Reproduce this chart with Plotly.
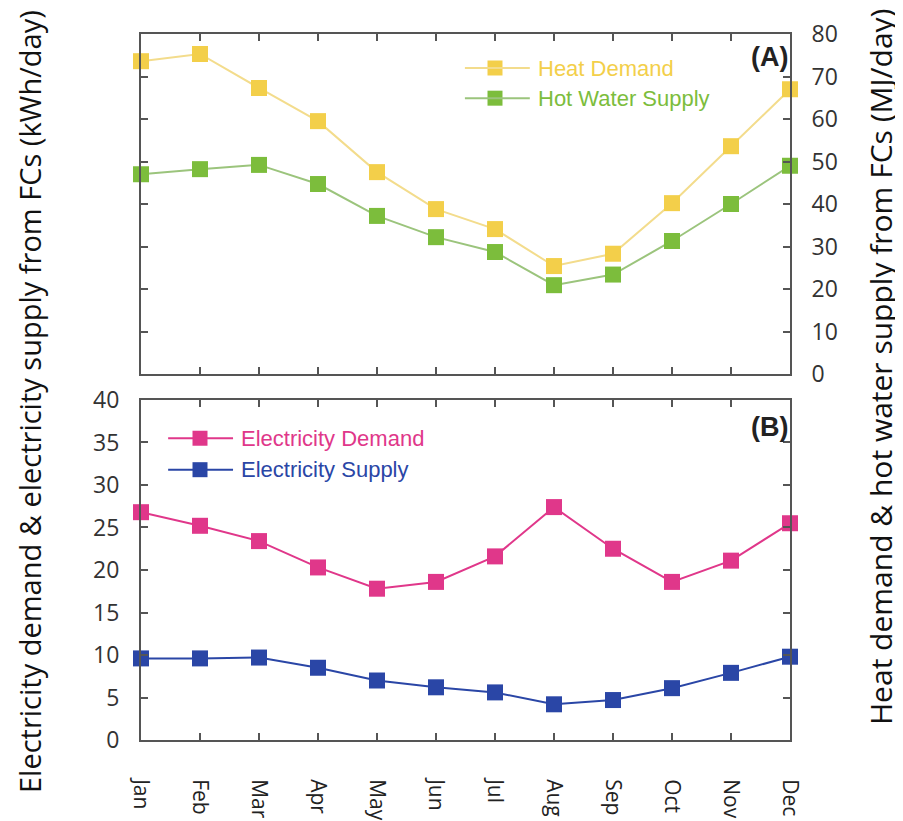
import plotly.graph_objects as go

months = ["Jan", "Feb", "Mar", "Apr", "May", "Jun", "Jul", "Aug", "Sep", "Oct", "Nov", "Dec"]
heat_demand = [73.6, 75.3, 67.3, 59.5, 47.5, 38.8, 34.1, 25.4, 28.3, 40.2, 53.6, 67.0]
hot_water_supply = [47.0, 48.2, 49.2, 44.7, 37.2, 32.2, 28.7, 20.9, 23.4, 31.3, 40.0, 49.0]
elec_demand = [26.8, 25.2, 23.4, 20.3, 17.8, 18.6, 21.6, 27.4, 22.5, 18.6, 21.1, 25.5]
elec_supply = [9.6, 9.6, 9.7, 8.5, 7.0, 6.2, 5.6, 4.2, 4.7, 6.1, 7.9, 9.8]
right_ticks = [0, 10, 20, 30, 40, 50, 60, 70, 80]
left_ticks = [0, 5, 10, 15, 20, 25, 30, 35, 40]

x = list(range(len(months)))

C_HEAT_M, C_HEAT_L = "#f3cf4a", "#f3dc8c"
C_HW_M, C_HW_L = "#7cbd3c", "#9bc47c"
C_ED = "#e0378a"
C_ES = "#2a46a6"

fig = go.Figure()

def add(y, name, mc, lc, xa, ya):
    fig.add_trace(go.Scatter(
        x=x, y=y, name=name, mode="lines+markers", xaxis=xa, yaxis=ya,
        line=dict(color=lc, width=2),
        marker=dict(symbol="square", size=16, color=mc),
        cliponaxis=False, showlegend=False))

add(heat_demand, "Heat Demand", C_HEAT_M, C_HEAT_L, "x", "y")
add(hot_water_supply, "Hot Water Supply", C_HW_M, C_HW_L, "x", "y")
add(elec_demand, "Electricity Demand", C_ED, C_ED, "x2", "y2")
add(elec_supply, "Electricity Supply", C_ES, C_ES, "x2", "y2")

axcol = "#555555"
tickfont = dict(family="Open Sans, DejaVu Sans, sans-serif", size=23, color="#333333")

common_x = dict(range=[0, 11], tickvals=x, showline=True, linecolor=axcol, linewidth=2,
                mirror="ticks", ticks="inside", ticklen=7, tickcolor=axcol, tickwidth=1.5,
                showgrid=False, zeroline=False, automargin=False)
fig.update_layout(
    xaxis=dict(common_x, domain=[0, 1], anchor="y", showticklabels=False),
    xaxis2=dict(common_x, domain=[0, 1], anchor="y2", ticktext=months, tickangle=90,
                tickfont=dict(family="Open Sans, DejaVu Sans, sans-serif", size=21, color="#222222"),
                ticklabelstandoff=33),
    yaxis=dict(domain=[0.5184, 1.0], anchor="x", side="right", range=[0, 80], tickvals=right_ticks,
               showline=True, linecolor=axcol, linewidth=2, mirror="ticks", ticks="inside",
               ticklen=7, tickcolor=axcol, tickwidth=1.5, showgrid=False, zeroline=False,
               tickfont=tickfont, ticklabelstandoff=15, automargin=False),
    yaxis2=dict(domain=[0.0, 0.4816], anchor="x2", side="left", range=[0, 40], tickvals=left_ticks,
                showline=True, linecolor=axcol, linewidth=2, mirror="ticks", ticks="inside",
                ticklen=7, tickcolor=axcol, tickwidth=1.5, showgrid=False, zeroline=False,
                tickfont=tickfont, ticklabelstandoff=15, automargin=False),
    width=895, height=813,
    margin=dict(l=133, r=113, t=26, b=81, autoexpand=False),
    paper_bgcolor="white", plot_bgcolor="white",
    showlegend=False,
)

def legend_entry(xa, ya, x0, x1, xm, y, name, mc, lc):
    fig.add_shape(type="line", xref=xa, yref=ya, x0=x0, x1=x1, y0=y, y1=y,
                  line=dict(color=lc, width=2))
    fig.add_trace(go.Scatter(x=[xm], y=[y], xaxis=xa, yaxis=ya, mode="markers",
                             marker=dict(symbol="square", size=15, color=mc),
                             showlegend=False, hoverinfo="skip", cliponaxis=False))
    fig.add_annotation(xref=xa, yref=ya, x=x1 + 0.1, y=y, text=name, showarrow=False,
                       xanchor="left", yanchor="middle",
                       font=dict(family="Liberation Sans, Arial, sans-serif", size=22, color=mc))

legend_entry("x", "y", 5.49, 6.59, 6.0, 72.0, "Heat Demand", C_HEAT_M, C_HEAT_L)
legend_entry("x", "y", 5.49, 6.59, 6.0, 64.9, "Hot Water Supply", C_HW_M, C_HW_L)
legend_entry("x2", "y2", 0.46, 1.56, 1.0, 35.5, "Electricity Demand", C_ED, C_ED)
legend_entry("x2", "y2", 0.46, 1.56, 1.0, 31.8, "Electricity Supply", C_ES, C_ES)

fig.add_annotation(xref="x", yref="y", x=11.0, y=74.5, text="<b>(A)</b>", showarrow=False,
                   xanchor="right", yanchor="middle",
                   font=dict(family="Liberation Sans, Arial, sans-serif", size=27, color="#222222"))
fig.add_annotation(xref="x2", yref="y2", x=11.0, y=36.8, text="<b>(B)</b>", showarrow=False,
                   xanchor="right", yanchor="middle",
                   font=dict(family="Liberation Sans, Arial, sans-serif", size=27, color="#222222"))

fig.add_annotation(xref="paper", yref="paper", x=(21 - 133) / 649, y=(732 - 394) / 706,
                   text="Electricity demand & electricity supply from FCs (kWh/day)",
                   textangle=-90, showarrow=False, xanchor="center", yanchor="middle",
                   font=dict(family="Open Sans, Noto Sans, sans-serif", size=29, color="#111111"))
fig.add_annotation(xref="paper", yref="paper", x=(872 - 133) / 649, y=(732 - 359) / 706,
                   text="Heat demand & hot water supply from FCs (MJ/day)",
                   textangle=-90, showarrow=False, xanchor="center", yanchor="middle",
                   font=dict(family="Open Sans, Noto Sans, sans-serif", size=30, color="#111111"))

fig.write_html("out.html")
